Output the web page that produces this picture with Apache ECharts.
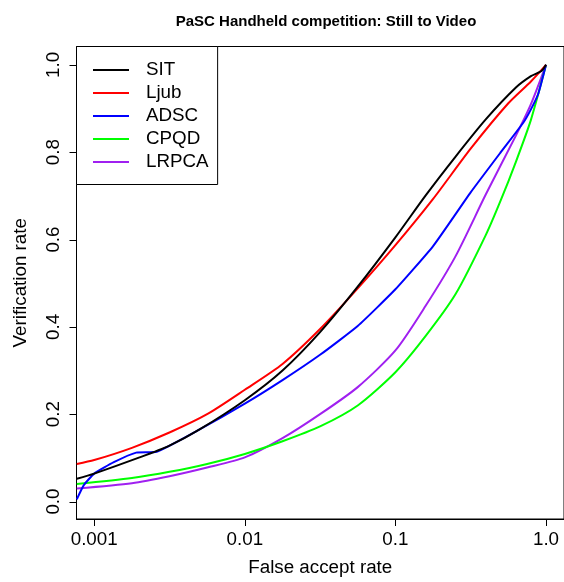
<!DOCTYPE html>
<html>
<head>
<meta charset="utf-8">
<script src="https://cdn.jsdelivr.net/npm/echarts@6/dist/echarts.min.js"></script>
<style>
html,body{margin:0;padding:0;background:#fff;}
#c{width:564px;height:582px;}
</style>
</head>
<body>
<div id="c"></div>
<script>
// ---- data: [False accept rate, Verification rate] ----
const seriesNames = ['SIT', 'Ljub', 'ADSC', 'CPQD', 'LRPCA'];
const seriesColors = ['#000000', '#ff0000', '#0000ff', '#00ff00', '#a020f0'];

const SIT = [
  [0.000766, 0.052], [0.001, 0.064], [0.002, 0.101], [0.00316, 0.128], [0.00501, 0.165],
  [0.01, 0.232], [0.0178, 0.300], [0.0316, 0.388], [0.0562, 0.492], [0.1, 0.605],
  [0.158, 0.700], [0.251, 0.790], [0.398, 0.875], [0.631, 0.948], [0.794, 0.974],
  [0.933, 0.986], [1.0, 1.0]
];
const Ljub = [
  [0.000766, 0.086], [0.001, 0.095], [0.00178, 0.123], [0.00316, 0.158], [0.00562, 0.200],
  [0.01, 0.256], [0.0178, 0.315], [0.0316, 0.395], [0.0562, 0.488], [0.1, 0.587],
  [0.178, 0.693], [0.316, 0.808], [0.562, 0.912], [0.794, 0.962], [1.0, 1.0]
];
const ADSC = [
  [0.000766, 0.005], [0.000851, 0.037], [0.001, 0.064], [0.00135, 0.090], [0.0019, 0.112],
  [0.0026, 0.114], [0.00501, 0.165], [0.01, 0.224], [0.0178, 0.278], [0.0316, 0.336],
  [0.0562, 0.402], [0.1, 0.486], [0.178, 0.585], [0.316, 0.708], [0.501, 0.800],
  [0.708, 0.868], [0.794, 0.898], [0.891, 0.935], [1.0, 1.0]
];
const CPQD = [
  [0.000766, 0.040], [0.00178, 0.054], [0.00316, 0.068], [0.00562, 0.086], [0.01, 0.109],
  [0.0178, 0.138], [0.0316, 0.172], [0.0562, 0.220], [0.1, 0.296], [0.158, 0.378],
  [0.251, 0.475], [0.398, 0.610], [0.501, 0.690], [0.631, 0.778], [0.794, 0.874], [1.0, 1.0]
];
const LRPCA = [
  [0.000766, 0.030], [0.00178, 0.042], [0.00316, 0.058], [0.00562, 0.078], [0.01, 0.101],
  [0.0178, 0.145], [0.0316, 0.200], [0.0562, 0.262], [0.1, 0.346], [0.158, 0.447],
  [0.251, 0.562], [0.398, 0.703], [0.631, 0.838], [0.794, 0.910], [1.0, 1.0]
];
const seriesData = [SIT, Ljub, ADSC, CPQD, LRPCA];

// ---- axes ----
const xTickValues = [0.001, 0.01, 0.1, 1];
const xTickLabels = ['0.001', '0.01', '0.1', '1.0'];
const yTickValues = [0, 0.2, 0.4, 0.6, 0.8, 1.0];
const xMin = Math.pow(10, -3.1176), xMax = Math.pow(10, 0.1195);
const yMin = -0.04, yMax = 1.042;

const FONT = 'Liberation Sans, Arial, Helvetica, sans-serif';
const FS = 18.8;
const TICK = 7;

function xLabel(v) {
  const i = xTickValues.findIndex(t => Math.abs(v - t) / t < 1e-6);
  return i >= 0 ? xTickLabels[i] : '';
}
function yLabel(v) {
  const i = yTickValues.findIndex(t => Math.abs(v - t) < 1e-6);
  return i >= 0 ? yTickValues[i].toFixed(1) : '';
}

const chart = echarts.init(document.getElementById('c'), null, {renderer: 'canvas'});
const option = {
  animation: false,
  backgroundColor: '#ffffff',
  textStyle: {fontFamily: FONT},
  title: {
    text: 'PaSC Handheld competition: Still to Video',
    left: 321, top: 9, textAlign: 'center',
    textStyle: {fontFamily: FONT, fontSize: 15, fontWeight: 'bold', color: '#000'}
  },
  legend: {
    orient: 'vertical', left: 76.5, top: 46.5,
    padding: [12, 9, 11, 16.5],
    itemWidth: 36, itemHeight: 2, itemGap: 0,
    icon: 'rect',
    borderColor: '#000', borderWidth: 1, backgroundColor: '#fff',
    selectedMode: false,
    textStyle: {fontFamily: FONT, fontSize: FS, color: '#000', lineHeight: 23, padding: [0, 0, 0, 12]},
    data: seriesNames
  },
  grid: {
    left: 76.5, top: 46.5, width: 490, height: 474,
    show: true, borderColor: '#000', borderWidth: 1, backgroundColor: 'transparent',
    containLabel: false
  },
  xAxis: {
    type: 'log', logBase: 10, position: 'bottom',
    min: xMin, max: xMax,
    name: 'False accept rate', nameLocation: 'middle', nameGap: 39,
    nameTextStyle: {fontFamily: FONT, fontSize: FS, color: '#000'},
    axisLine: {show: true, onZero: false, lineStyle: {color: '#000', width: 1}},
    axisTick: {show: false},
    axisLabel: {show: true, margin: 11, fontFamily: FONT, fontSize: FS, color: '#000',
                showMinLabel: false, showMaxLabel: false, formatter: xLabel},
    splitLine: {show: false}, minorTick: {show: false}
  },
  yAxis: {
    type: 'value', min: yMin, max: yMax, position: 'left', splitNumber: 5,
    name: 'Verification rate', nameLocation: 'middle', nameGap: 46,
    nameTextStyle: {fontFamily: FONT, fontSize: FS, color: '#000'},
    axisLine: {show: true, onZero: false, lineStyle: {color: '#000', width: 1}},
    axisTick: {show: false},
    axisLabel: {show: true, rotate: 90, margin: 13, fontFamily: FONT, fontSize: FS, color: '#000',
                showMinLabel: false, showMaxLabel: false, formatter: yLabel},
    splitLine: {show: false}
  },
  series: seriesNames.map((n, i) => ({
    name: n, type: 'line',
    data: seriesData[i], showSymbol: false, symbol: 'none',
    smooth: i === 2 ? 0.15 : 0.25, clip: true,
    color: seriesColors[i],
    lineStyle: {color: seriesColors[i], width: 2},
    itemStyle: {color: seriesColors[i]},
    z: 2 + (seriesNames.length - i)
  }))
};
chart.setOption(option);

// tick marks: positions obtained from the chart's own axes via convertToPixel
const yBottom = chart.convertToPixel({yAxisIndex: 0}, yMin);
const xLeft = chart.convertToPixel({xAxisIndex: 0}, xMin);
const tickEls = [];
xTickValues.forEach(v => {
  const x = Math.round(chart.convertToPixel({xAxisIndex: 0}, v)) + 0.5;
  tickEls.push({type: 'line', silent: true, z: 100,
    shape: {x1: x, y1: yBottom, x2: x, y2: yBottom + TICK},
    style: {stroke: '#000', lineWidth: 1}});
});
yTickValues.forEach(v => {
  const y = Math.round(chart.convertToPixel({yAxisIndex: 0}, v)) + 0.5;
  tickEls.push({type: 'line', silent: true, z: 100,
    shape: {x1: xLeft - TICK, y1: y, x2: xLeft, y2: y},
    style: {stroke: '#000', lineWidth: 1}});
});
chart.setOption({graphic: {elements: tickEls}});
</script>
</body>
</html>
